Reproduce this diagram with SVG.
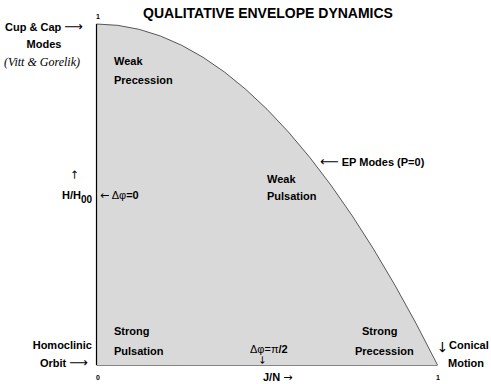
<svg xmlns="http://www.w3.org/2000/svg" width="491" height="384" viewBox="0 0 491 384">
<style>
text{font-family:"Liberation Sans",Arial,sans-serif;font-weight:bold;fill:#000}
.t{font-size:11px}
.s{font-size:7px}
.i{font-family:"Liberation Serif","Times New Roman",serif;font-style:italic;font-weight:normal;font-size:12px}
.n{font-weight:normal}
.a{font-family:"DejaVu Sans",sans-serif;font-weight:normal;fill:#000}
.v{font-family:"DejaVu Sans",sans-serif;font-weight:normal;fill:#000;text-anchor:middle;dominant-baseline:central}
</style>
<rect width="491" height="384" fill="#fff"/>
<g id="region">
<path d="M96.5,365 L96.5,24 Q267,24 437.5,365 Z" fill="#d9d9d9" stroke="none"/>
<path d="M96.5,365 L96.5,24" stroke="#000" stroke-width="1.2" fill="none"/>
<path d="M96.5,24 Q267,24 437.5,365" stroke="#333" stroke-width="0.8" fill="none"/>
<path d="M96.5,365.5 L437.5,365.5" stroke="#666" stroke-width="0.8" fill="none"/>
</g>
<text x="268" y="18" text-anchor="middle" style="font-size:14px">QUALITATIVE ENVELOPE DYNAMICS</text>
<g id="ticks">
<text class="s" x="96" y="19">1</text>
<text class="s" x="96" y="380">0</text>
<text class="s" x="436" y="380">1</text>
</g>
<g id="cupcap">
<text class="t" x="5" y="31">Cup &amp; Cap <tspan class="a" font-size="13">⟶</tspan></text>
<text class="t" x="44" y="48" text-anchor="middle">Modes</text>
<text class="i" x="42" y="66" text-anchor="middle">(Vitt &amp; Gorelik)</text>
</g>
<g id="weakprec">
<text class="t" x="114" y="65">Weak</text>
<text class="t" x="114" y="84">Precession</text>
</g>
<g id="haxis">
<text class="v" font-size="11" transform="translate(74,175) rotate(-90)">→</text>
<text class="t" x="62" y="199">H/H<tspan dy="4" font-size="10">00</tspan></text>
<text class="t" x="100" y="199"><tspan class="a">←</tspan><tspan class="n"> Δφ</tspan>=0</text>
</g>
<g id="ep">
<text class="t" x="320" y="166"><tspan class="a" font-size="13">⟵</tspan> EP Modes (P=0)</text>
</g>
<g id="weakpuls">
<text class="t" x="267" y="183">Weak</text>
<text class="t" x="267" y="200">Pulsation</text>
</g>
<g id="strongpuls">
<text class="t" x="114" y="335">Strong</text>
<text class="t" x="114" y="355">Pulsation</text>
</g>
<g id="homoclinic">
<text class="t" x="92" y="349" text-anchor="end">Homoclinic</text>
<text class="t" x="40" y="367">Orbit <tspan class="a" font-size="13">⟶</tspan></text>
</g>
<g id="dphi">
<text class="t" x="250" y="353"><tspan class="n">Δφ=π</tspan>/2</text>
<text class="v" font-size="10" transform="translate(262,360) rotate(90)">→</text>
</g>
<g id="jaxis">
<text class="t" x="263" y="381">J/N <tspan class="a" font-size="11">→</tspan></text>
</g>
<g id="strongprec">
<text class="t" x="362" y="335">Strong</text>
<text class="t" x="355" y="355">Precession</text>
</g>
<g id="conical">
<text class="v" font-size="14" transform="translate(443,347) rotate(90)">→</text>
<text class="t" x="449" y="349">Conical</text>
<text class="t" x="448" y="367">Motion</text>
</g>
</svg>
